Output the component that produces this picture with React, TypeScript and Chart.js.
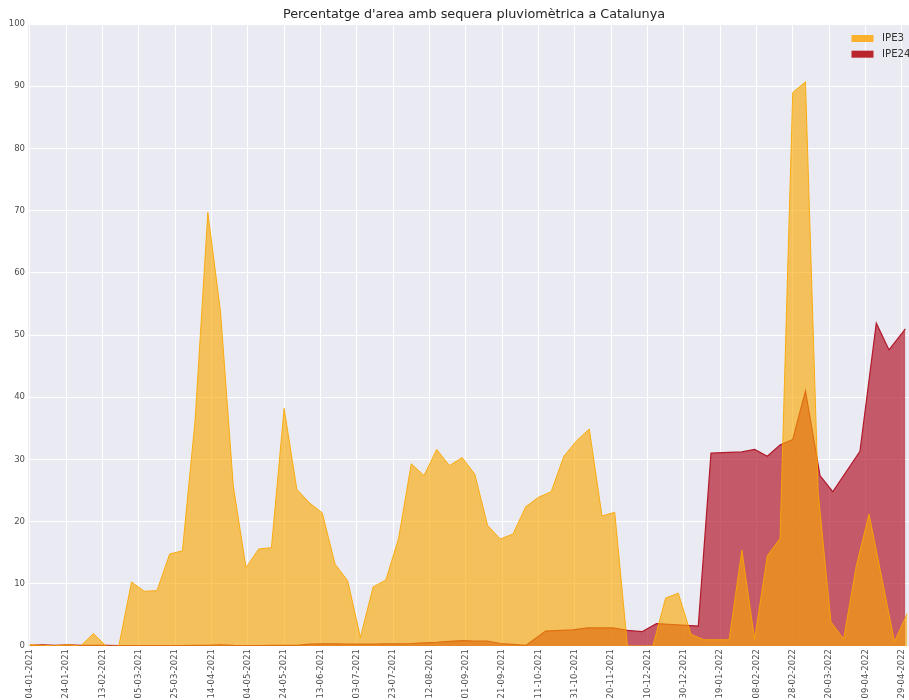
import React, { useEffect, useRef } from 'react';
import { Chart, registerables } from 'chart.js';

Chart.register(...registerables);

const TITLE = "Percentatge d'area amb sequera pluviomètrica a Catalunya";
const ORIGIN = '04-01-2021';

// IPE3 – weekly dates
const ipe3Dates = [
  '04-01-2021', '11-01-2021', '18-01-2021', '25-01-2021', '01-02-2021', '08-02-2021', '15-02-2021', '22-02-2021',
  '01-03-2021', '08-03-2021', '15-03-2021', '22-03-2021', '29-03-2021', '05-04-2021', '12-04-2021', '19-04-2021',
  '26-04-2021', '03-05-2021', '10-05-2021', '17-05-2021', '24-05-2021', '31-05-2021', '07-06-2021', '14-06-2021',
  '21-06-2021', '28-06-2021', '05-07-2021', '12-07-2021', '19-07-2021', '26-07-2021', '02-08-2021', '09-08-2021',
  '16-08-2021', '23-08-2021', '30-08-2021', '06-09-2021', '13-09-2021', '20-09-2021', '27-09-2021', '04-10-2021',
  '11-10-2021', '18-10-2021', '25-10-2021', '01-11-2021', '08-11-2021', '15-11-2021', '22-11-2021', '29-11-2021',
  '06-12-2021', '13-12-2021', '20-12-2021', '27-12-2021', '03-01-2022', '10-01-2022', '17-01-2022', '24-01-2022',
  '31-01-2022', '07-02-2022', '14-02-2022', '21-02-2022', '28-02-2022', '07-03-2022', '14-03-2022', '21-03-2022',
  '28-03-2022', '04-04-2022', '11-04-2022', '18-04-2022', '25-04-2022', '02-05-2022',
];
const ipe3Values = [
  0.2, 0.1, 0.05, 0.2, 0, 2.0, 0, 0,
  10.3, 8.8, 8.9, 14.8, 15.3, 36.3, 69.7, 53.7,
  25.8, 12.6, 15.6, 15.8, 38.2, 25.2, 23.0, 21.4,
  13.2, 10.5, 1.4, 9.5, 10.6, 17.3, 29.3, 27.4,
  31.6, 29.0, 30.3, 27.6, 19.4, 17.2, 18.0, 22.4,
  23.9, 24.8, 30.5, 33.0, 34.9, 20.9, 21.5, 0,
  0, 0, 7.7, 8.5, 1.9, 1.0, 1.0, 1.0,
  15.4, 1.1, 14.5, 17.3, 89.0, 90.7, 24.7, 3.9,
  1.1, 12.9, 21.2, 11.0, 0.7, 5.2,
];

// IPE24
const ipe24Dates = [
  '04-01-2021', '11-01-2021', '18-01-2021', '25-01-2021', '01-02-2021', '08-02-2021', '15-02-2021', '22-02-2021',
  '01-03-2021', '08-03-2021', '15-03-2021', '22-03-2021', '29-03-2021', '05-04-2021', '12-04-2021', '19-04-2021',
  '26-04-2021', '03-05-2021', '10-05-2021', '17-05-2021', '24-05-2021', '31-05-2021', '07-06-2021', '14-06-2021',
  '21-06-2021', '28-06-2021', '05-07-2021', '12-07-2021', '19-07-2021', '26-07-2021', '02-08-2021', '09-08-2021',
  '16-08-2021', '23-08-2021', '30-08-2021', '06-09-2021', '13-09-2021', '20-09-2021', '27-09-2021', '04-10-2021',
  '15-10-2021', '30-10-2021', '07-11-2021', '21-11-2021', '29-11-2021', '07-12-2021', '15-12-2021', '07-01-2022',
  '14-01-2022', '31-01-2022', '07-02-2022', '14-02-2022', '21-02-2022', '28-02-2022', '07-03-2022', '15-03-2022',
  '22-03-2022', '06-04-2022', '15-04-2022', '22-04-2022', '01-05-2022',
];
const ipe24Values = [
  0.1, 0.2, 0.1, 0.2, 0.1, 0.1, 0.1, 0.05,
  0.05, 0.05, 0.05, 0.05, 0.05, 0.1, 0.1, 0.2,
  0.1, 0.05, 0.05, 0.1, 0.1, 0.1, 0.3, 0.35,
  0.35, 0.3, 0.3, 0.3, 0.35, 0.35, 0.4, 0.5,
  0.6, 0.75, 0.85, 0.8, 0.8, 0.4, 0.25, 0.1,
  2.4, 2.6, 2.9, 2.9, 2.5, 2.3, 3.6, 3.2,
  31.0, 31.2, 31.6, 30.5, 32.3, 33.2, 41.0, 27.4,
  24.8, 31.3, 51.9, 47.6, 51.0,
];

const xTickLabels = [
  '04-01-2021', '24-01-2021', '13-02-2021', '05-03-2021', '25-03-2021', '14-04-2021', '04-05-2021',
  '24-05-2021', '13-06-2021', '03-07-2021', '23-07-2021', '12-08-2021', '01-09-2021', '21-09-2021',
  '11-10-2021', '31-10-2021', '20-11-2021', '10-12-2021', '30-12-2021', '19-01-2022', '08-02-2022',
  '28-02-2022', '20-03-2022', '09-04-2022', '29-04-2022',
];
const yTickValues = [0, 10, 20, 30, 40, 50, 60, 70, 80, 90, 100];

const legendLabels = ['IPE3', 'IPE24'];
const legendColors = ['#fbb02e', '#b9262e'];

function dayOf(s: string): number {
  const [d, m, y] = s.split('-').map(Number);
  const [d0, m0, y0] = ORIGIN.split('-').map(Number);
  return Math.round((Date.UTC(y, m - 1, d) - Date.UTC(y0, m0 - 1, d0)) / 86400000);
}

const FONT = "'DejaVu Sans', sans-serif";

export default function App() {
  const ref = useRef<HTMLCanvasElement | null>(null);

  useEffect(() => {
    if (!ref.current) return;
    const labelMap: Record<number, string> = {};
    xTickLabels.forEach((s) => { labelMap[dayOf(s)] = s; });

    const bgPlugin = {
      id: 'bgPlugin',
      beforeDraw(chart: any) {
        const { ctx, chartArea } = chart;
        ctx.save();
        ctx.fillStyle = '#eaeaf2';
        ctx.fillRect(chartArea.left, chartArea.top, chartArea.right - chartArea.left, chartArea.bottom - chartArea.top);
        ctx.restore();
      },
      afterDraw(chart: any) {
        const { ctx } = chart;
        ctx.save();
        ctx.fillStyle = '#262626';
        ctx.font = `12.8px ${FONT}`;
        ctx.textAlign = 'center';
        ctx.textBaseline = 'middle';
        ctx.fillText(TITLE, 474, 14.5);
        ctx.font = `10.2px ${FONT}`;
        ctx.textAlign = 'left';
        legendLabels.forEach((lab, i) => {
          const y = 35 + i * 15.7;
          ctx.fillStyle = legendColors[i];
          ctx.fillRect(851.5, y, 22, 7);
          ctx.fillStyle = '#333333';
          ctx.fillText(lab, 882, y + 3.8);
        });
        ctx.restore();
      },
    };

    const chart = new Chart(ref.current, {
      type: 'line',
      data: {
        datasets: [
          {
            label: legendLabels[0],
            data: ipe3Dates.map((d, i) => ({ x: dayOf(d), y: ipe3Values[i] })),
            borderColor: 'rgba(250,167,0,0.9)',
            backgroundColor: 'rgba(250,167,0,0.62)',
            borderWidth: 1,
            fill: 'origin',
            pointRadius: 0,
            tension: 0,
          },
          {
            label: legendLabels[1],
            data: ipe24Dates.map((d, i) => ({ x: dayOf(d), y: ipe24Values[i] })),
            borderColor: '#b2182b',
            backgroundColor: 'rgba(178,24,43,0.69)',
            borderWidth: 1.2,
            fill: 'origin',
            pointRadius: 0,
            tension: 0,
          },
        ],
      },
      options: {
        animation: false,
        responsive: false,
        devicePixelRatio: 1,
        layout: { padding: { top: 24, left: 0, right: 0, bottom: 0 } },
        plugins: {
          legend: { display: false },
          title: { display: false },
          tooltip: { enabled: false },
        },
        scales: {
          x: {
            type: 'linear',
            min: -1,
            max: 484,
            afterBuildTicks: (scale: any) => {
              scale.ticks = xTickLabels.map((s) => ({ value: dayOf(s) }));
            },
            afterFit: (scale: any) => {
              scale.height = 54;
              scale.paddingLeft = 0;
              scale.paddingRight = 0;
            },
            ticks: {
              autoSkip: false,
              minRotation: 90,
              maxRotation: 90,
              padding: 3,
              color: '#4d4d4d',
              font: { family: FONT, size: 8.5 },
              callback: (v: any) => labelMap[Number(v)] ?? '',
            },
            grid: { color: '#ffffff', lineWidth: 1, drawTicks: false },
            border: { display: false },
          },
          y: {
            type: 'linear',
            min: 0,
            max: 100,
            afterBuildTicks: (scale: any) => {
              scale.ticks = yTickValues.map((v) => ({ value: v }));
            },
            afterFit: (scale: any) => {
              scale.width = 28;
              scale.paddingTop = 0;
              scale.paddingBottom = 0;
            },
            ticks: {
              padding: 3,
              color: '#4d4d4d',
              font: { family: FONT, size: 8.5 },
            },
            grid: { color: '#ffffff', lineWidth: 1, drawTicks: false },
            border: { display: false },
          },
        },
      },
      plugins: [bgPlugin],
    } as any);

    return () => chart.destroy();
  }, []);

  return (
    <div style={{ position: 'absolute', left: 0, top: 0, width: 909, height: 700, background: '#ffffff' }}>
      <canvas ref={ref} width={909} height={700} style={{ display: 'block', width: 909, height: 700 }} />
    </div>
  );
}
